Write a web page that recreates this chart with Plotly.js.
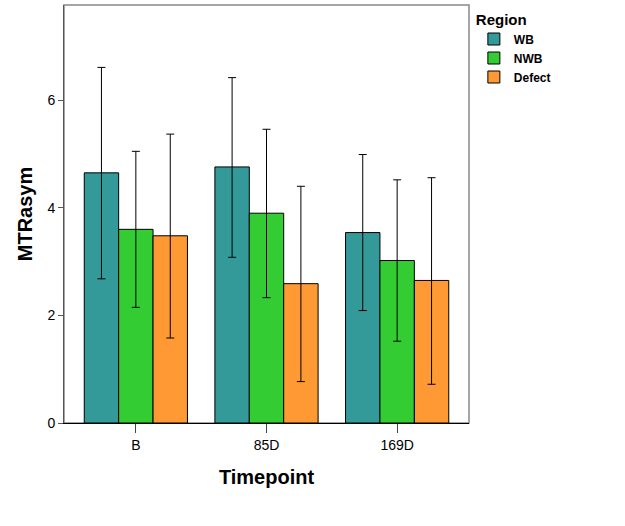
<!DOCTYPE html>
<html>
<head>
<meta charset="utf-8">
<script src="https://cdn.plot.ly/plotly-3.0.1.min.js"></script>
<style>html,body{margin:0;padding:0;background:#fff;}#chart{width:625px;height:526px;}</style>
</head>
<body>
<div id="chart"></div>
<script>
var timepoints = ["B", "85D", "169D"];
var regions = ["WB", "NWB", "Defect"];
var colors = ["#339999", "#33cc33", "#ff9933"];
var meanWB = [4.65, 4.76, 3.54];
var meanNWB = [3.60, 3.90, 3.02];
var meanDefect = [3.48, 2.59, 2.65];
var upperWB = [6.61, 6.42, 4.99];
var upperNWB = [5.05, 5.46, 4.52];
var upperDefect = [5.37, 4.40, 4.56];
var lowerWB = [2.68, 3.08, 2.09];
var lowerNWB = [2.15, 2.33, 1.52];
var lowerDefect = [1.58, 0.77, 0.72];

var means = [meanWB, meanNWB, meanDefect];
var uppers = [upperWB, upperNWB, upperDefect];
var lowers = [lowerWB, lowerNWB, lowerDefect];

var font = "Liberation Sans, Arial, sans-serif";
var traces = regions.map(function (r, i) {
  return {
    type: "bar",
    name: r,
    x: timepoints,
    y: means[i],
    marker: {color: colors[i], line: {color: "#000", width: 1}},
    error_y: {
      type: "data",
      symmetric: false,
      array: uppers[i].map(function (u, k) { return u - means[i][k]; }),
      arrayminus: lowers[i].map(function (l, k) { return means[i][k] - l; }),
      color: "#000",
      thickness: 1,
      width: 4
    }
  };
});

var layout = {
  width: 625,
  height: 526,
  margin: {l: 64, r: 156, t: 5, b: 103},
  paper_bgcolor: "#fff",
  plot_bgcolor: "#fff",
  barmode: "group",
  bargap: 0.21,
  bargroupgap: 0,
  font: {family: font, color: "#000"},
  showlegend: true,
  legend: {
    x: 1.012, xanchor: "left", y: 1.0, yanchor: "top",
    title: {text: "<b>Region</b>", font: {size: 15, family: font}},
    font: {size: 12, family: font, weight: "bold"},
    tracegroupgap: 0,
    itemwidth: 30
  },
  xaxis: {
    range: [-0.55, 2.55],
    showline: true, linecolor: "#000", linewidth: 1, mirror: false,
    ticks: "outside", ticklen: 9, tickcolor: "#444",
    tickfont: {size: 14, family: font},
    title: {text: "<b>Timepoint</b>", font: {size: 20, family: font}, standoff: 18},
    showgrid: false, zeroline: false
  },
  yaxis: {
    range: [0, 7.77],
    tickvals: [0, 2, 4, 6],
    showline: true, linecolor: "#555", linewidth: 1,
    ticks: "outside", ticklen: 5, tickcolor: "#555",
    tickfont: {size: 14, family: font},
    title: {text: "<b>MTRasym</b>", font: {size: 20, family: font}, standoff: 9},
    showgrid: false, zeroline: false
  },
  shapes: [{
    type: "rect", xref: "paper", yref: "paper", x0: 0, x1: 1, y0: 0, y1: 1,
    line: {color: "#888", width: 1.5}, layer: "below"
  }]
};

Plotly.newPlot("chart", traces, layout, {displayModeBar: false, staticPlot: true});
</script>
</body>
</html>
